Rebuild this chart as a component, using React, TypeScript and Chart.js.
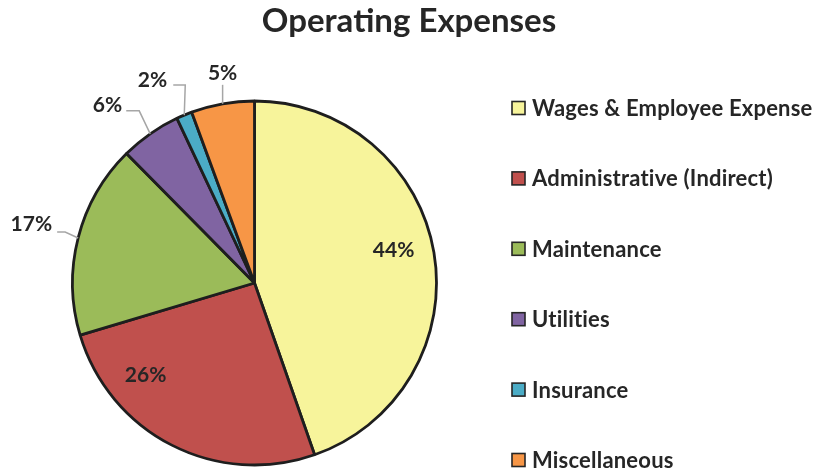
import React, { useEffect, useRef } from "react";
import { Chart, registerables } from "chart.js";

Chart.register(...registerables);

const categories = [
  "Wages & Employee Expense",
  "Administrative (Indirect)",
  "Maintenance",
  "Utilities",
  "Insurance",
  "Miscellaneous",
];
const values = [44.6, 25.7, 17.2, 5.4, 1.4, 5.6];
const percentLabels = ["44%", "26%", "17%", "6%", "2%", "5%"];
const colors = ["#F7F49B", "#C0504D", "#9BBB59", "#8064A2", "#4BACC6", "#F79646"];
const title = "Operating Expenses";

const TEXT = "#262626";
const FONT = "Lato, 'Open Sans', sans-serif";

// label placement styles (annotation layout)
type Place =
  | { kind: "in"; frac: number; bias: number }
  | { kind: "out"; elbow: [number, number]; h: number; text: [number, number]; align: CanvasTextAlign };

const places: Place[] = [
  { kind: "in", frac: 0.785, bias: -3.5 },
  { kind: "in", frac: 0.785, bias: 22.6 },
  { kind: "out", elbow: [-13, -6], h: -8, text: [-5, -8], align: "right" },
  { kind: "out", elbow: [-11, -23], h: -13, text: [-4, -6], align: "right" },
  { kind: "out", elbow: [1, -30], h: -12, text: [-6, -5], align: "right" },
  { kind: "out", elbow: [0, -19], h: 0, text: [0, -12], align: "center" },
];

const overlay = {
  id: "overlay",
  afterDraw(chart: any) {
    const ctx: any = chart.ctx;
    const meta = chart.getDatasetMeta(0);
    ctx.save();
    // title
    ctx.fillStyle = TEXT;
    ctx.font = `bold 33px ${FONT}`;
    ctx.textAlign = "center";
    ctx.textBaseline = "alphabetic";
    ctx.fillText(title, 409, 32);

    // slice labels
    ctx.font = `bold 21px ${FONT}`;
    ctx.textBaseline = "middle";
    meta.data.forEach((arc: any, i: number) => {
      const p = places[i];
      const mid = (arc.startAngle + arc.endAngle) / 2;
      const r = arc.outerRadius;
      if (p.kind === "in") {
        const a = mid + (p.bias * Math.PI) / 180;
        const x = arc.x + Math.cos(a) * r * p.frac;
        const y = arc.y + Math.sin(a) * r * p.frac;
        ctx.textAlign = "center";
        ctx.fillStyle = TEXT;
        ctx.fillText(percentLabels[i], x, y);
      } else {
        const ex = arc.x + Math.cos(mid) * r;
        const ey = arc.y + Math.sin(mid) * r;
        const bx = ex + p.elbow[0];
        const by = ey + p.elbow[1];
        const lx = bx + p.h;
        ctx.strokeStyle = "#A6A6A6";
        ctx.lineWidth = 1.5;
        ctx.beginPath();
        ctx.moveTo(ex, ey);
        ctx.lineTo(bx, by);
        ctx.lineTo(lx, by);
        ctx.stroke();
        ctx.textAlign = p.align;
        ctx.fillStyle = TEXT;
        ctx.fillText(percentLabels[i], lx + p.text[0], by + p.text[1]);
      }
    });

    // legend
    ctx.font = `bold 22px ${FONT}`;
    try { ctx.letterSpacing = "0.2px"; } catch (e) {}
    ctx.textAlign = "left";
    ctx.textBaseline = "middle";
    categories.forEach((c, i) => {
      const y = 108 + i * 70.4;
      ctx.fillStyle = colors[i];
      ctx.fillRect(512, y - 6.5, 13, 13);
      ctx.strokeStyle = TEXT;
      ctx.lineWidth = 1.6;
      ctx.strokeRect(512, y - 6.5, 13, 13);
      ctx.fillStyle = TEXT;
      ctx.fillText(c, 532, y + 1);
    });
    ctx.restore();
  },
};

export default function App() {
  const ref = useRef<HTMLCanvasElement | null>(null);
  useEffect(() => {
    if (!ref.current) return;
    const chart = new Chart(ref.current, {
      type: "pie",
      data: {
        labels: categories,
        datasets: [
          {
            data: values,
            backgroundColor: colors,
            borderColor: "#1E1E1E",
            borderWidth: 2.8,
          },
        ],
      },
      options: {
        responsive: false,
        animation: false,
        radius: 182,
        layout: { padding: { left: 72, top: 101, right: 393, bottom: 4 } },
        plugins: {
          legend: { display: false },
          title: { display: false },
          tooltip: { enabled: false },
        },
      } as any,
      plugins: [overlay],
    });
    return () => chart.destroy();
  }, []);
  return (
    <div style={{ position: "absolute", left: 0, top: 0, width: 830, height: 469, background: "#fff" }}>
      <canvas ref={ref} width={830} height={469} />
    </div>
  );
}
